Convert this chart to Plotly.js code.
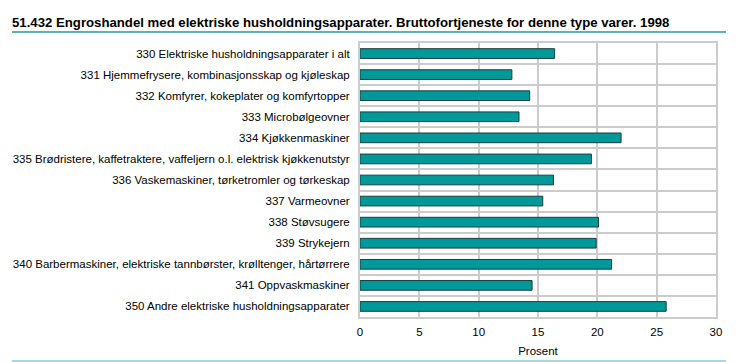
<!DOCTYPE html>
<html>
<head>
<meta charset="utf-8">
<script src="https://cdn.plot.ly/plotly-3.0.1.min.js"></script>
<style>html,body{margin:0;padding:0;background:#fff;}#chart{width:736px;height:362px;}</style>
</head>
<body>
<div id="chart"></div>
<script>
var categories = [
  "330 Elektriske husholdningsapparater i alt",
  "331 Hjemmefrysere, kombinasjonsskap og kjøleskap",
  "332 Komfyrer, kokeplater og komfyrtopper",
  "333 Microbølgeovner",
  "334 Kjøkkenmaskiner",
  "335 Brødristere, kaffetraktere, vaffeljern o.l. elektrisk kjøkkenutstyr",
  "336 Vaskemaskiner, tørketromler og tørkeskap",
  "337 Varmeovner",
  "338 Støvsugere",
  "339 Strykejern",
  "340 Barbermaskiner, elektriske tannbørster, krølltenger, hårtørrere",
  "341 Oppvaskmaskiner",
  "350 Andre elektriske husholdningsapparater"
];
var prosent = [16.4, 12.8, 14.3, 13.4, 22.0, 19.5, 16.3, 15.4, 20.1, 19.9, 21.2, 14.5, 25.8];
var xTicks = [0, 5, 10, 15, 20, 25, 30];

var idx = categories.map(function(c, i){ return i; });
var bounds = categories.map(function(c, i){ return i + 0.5; }).slice(0, -1);

var trace = {
  type: 'bar',
  orientation: 'h',
  x: prosent,
  y: idx,
  marker: {color: '#009999', line: {color: '#1c3c3c', width: 1}},
  hoverinfo: 'x'
};

var grid = '#cccccc';
var layout = {
  width: 736, height: 362,
  margin: {l: 360, r: 20, t: 43, b: 45},
  paper_bgcolor: '#ffffff', plot_bgcolor: '#ffffff',
  font: {family: 'Liberation Sans, Arial, sans-serif', size: 11.5, color: '#000'},
  bargap: 0.54,
  showlegend: false,
  title: {
    text: '<b>51.432 Engroshandel med elektriske husholdningsapparater. Bruttofortjeneste for denne type varer. 1998</b>',
    font: {family: 'Liberation Sans, Arial, sans-serif', size: 13.2, color: '#000'},
    xref: 'container', yref: 'container', x: 12/736, xanchor: 'left', y: 1 - 22/362, yanchor: 'middle'
  },
  xaxis: {
    range: [0, 30], tickvals: xTicks, ticktext: xTicks.map(String),
    showgrid: true, gridcolor: grid, gridwidth: 2,
    showline: true, linecolor: grid, linewidth: 2, mirror: true,
    zeroline: false, ticks: '', ticklen: 0,
    ticklabelstandoff: 3,
    tickfont: {size: 11.5},
    title: {text: 'Prosent', font: {size: 11.5}, standoff: 10}
  },
  yaxis: {
    range: [categories.length - 0.5, -0.5],
    tickmode: 'array', tickvals: idx, ticktext: categories,
    showgrid: false, zeroline: false, ticks: '',
    showline: true, linecolor: grid, linewidth: 2, mirror: true,
    ticklabelstandoff: 6,
    minor: {tickmode: 'array', tickvals: bounds, showgrid: true, gridcolor: grid, gridwidth: 2, ticks: ''}
  },
  shapes: [
    {type: 'line', xref: 'paper', yref: 'paper', x0: (12-360)/356, x1: (726-360)/356, y0: 1 + 11/274, y1: 1 + 11/274,
     line: {color: '#2a9696', width: 1.5}},
    {type: 'line', xref: 'paper', yref: 'paper', x0: (12-360)/356, x1: (726-360)/356, y0: -44/274, y1: -44/274,
     line: {color: '#88cccc', width: 1.5}}
  ]
};

Plotly.newPlot('chart', [trace], layout, {displayModeBar: false, staticPlot: true});
</script>
</body>
</html>
